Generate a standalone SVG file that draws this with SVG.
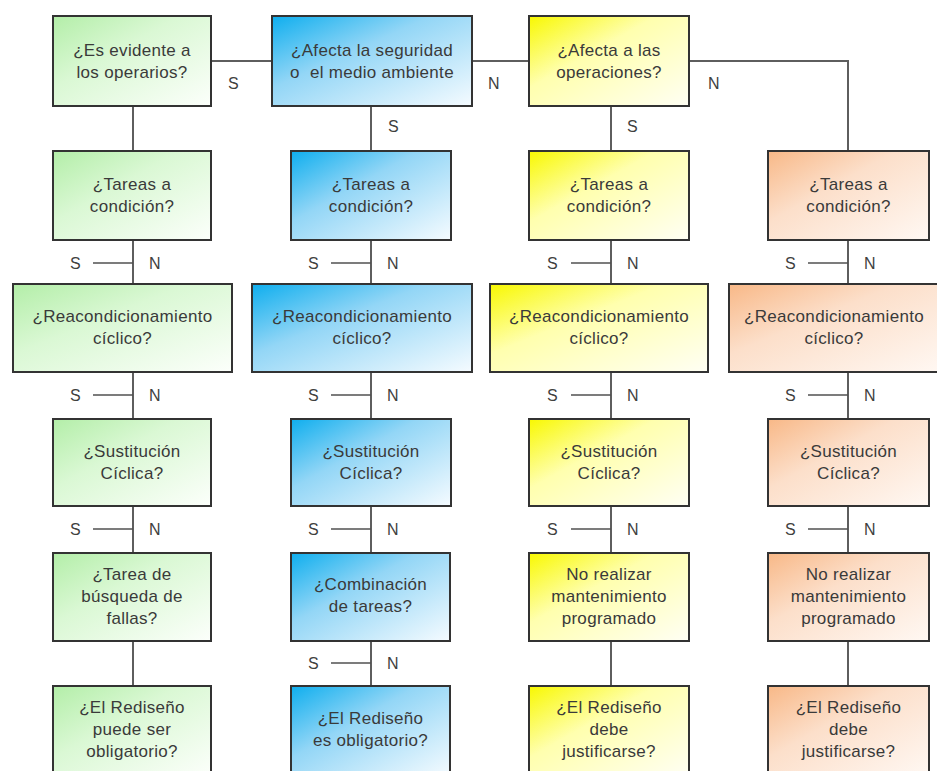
<svg xmlns="http://www.w3.org/2000/svg" width="937" height="771" viewBox="0 0 937 771">
  <defs>
    <linearGradient id="gGreen" x1="0" y1="0" x2="1" y2="1">
      <stop offset="0" stop-color="#b3eea8"/>
      <stop offset="0.4" stop-color="#daf8d4"/>
      <stop offset="1" stop-color="#fcfffb"/>
    </linearGradient>
    <linearGradient id="gBlue" x1="0" y1="0" x2="1" y2="1">
      <stop offset="0" stop-color="#0eaeee"/>
      <stop offset="0.4" stop-color="#93d6f6"/>
      <stop offset="1" stop-color="#f5fbff"/>
    </linearGradient>
    <linearGradient id="gYellow" x1="0" y1="0" x2="1" y2="1">
      <stop offset="0" stop-color="#f8f800"/>
      <stop offset="0.4" stop-color="#ffffae"/>
      <stop offset="1" stop-color="#fffff4"/>
    </linearGradient>
    <linearGradient id="gOrange" x1="0" y1="0" x2="1" y2="1">
      <stop offset="0" stop-color="#f8b887"/>
      <stop offset="0.4" stop-color="#fcdfca"/>
      <stop offset="1" stop-color="#fff8f3"/>
    </linearGradient>
  </defs>
  <style>
    .box { stroke: #333333; stroke-width: 2; }
    .green { fill: url(#gGreen); }
    .blue { fill: url(#gBlue); }
    .yellow { fill: url(#gYellow); }
    .orange { fill: url(#gOrange); }
    .t { font-family: "Liberation Sans", Arial, sans-serif; font-size: 17px; fill: #3a3a3a; text-anchor: middle; letter-spacing: 0.3px; }
    .lbl { font-family: "Liberation Sans", Arial, sans-serif; font-size: 16px; fill: #404040; }
    .wire { stroke: #5e5e5e; stroke-width: 2; fill: none; }
    .tick { stroke: #505050; stroke-width: 1.5; fill: none; }
  </style>
  <rect width="937" height="771" fill="#ffffff"/>

  <!-- connectors -->
  <g id="connectors">
    <line class="wire" x1="211" y1="61" x2="272" y2="61"/>
    <line class="wire" x1="472" y1="61" x2="529" y2="61"/>
    <polyline class="wire" points="689,61 848,61 848,686"/>
    <line class="wire" x1="133" y1="106" x2="133" y2="686"/>
    <line class="wire" x1="371" y1="106" x2="371" y2="686"/>
    <line class="wire" x1="611" y1="106" x2="611" y2="686"/>

    <!-- side ticks for the S / N branches -->
    <line class="tick" x1="93" y1="263" x2="133" y2="263"/>
    <line class="tick" x1="93" y1="395" x2="133" y2="395"/>
    <line class="tick" x1="93" y1="529" x2="133" y2="529"/>
    <line class="tick" x1="331" y1="263" x2="371" y2="263"/>
    <line class="tick" x1="331" y1="395" x2="371" y2="395"/>
    <line class="tick" x1="331" y1="529" x2="371" y2="529"/>
    <line class="tick" x1="331" y1="663" x2="371" y2="663"/>
    <line class="tick" x1="571" y1="263" x2="611" y2="263"/>
    <line class="tick" x1="571" y1="395" x2="611" y2="395"/>
    <line class="tick" x1="571" y1="529" x2="611" y2="529"/>
    <line class="tick" x1="808" y1="263" x2="848" y2="263"/>
    <line class="tick" x1="808" y1="395" x2="848" y2="395"/>
    <line class="tick" x1="808" y1="529" x2="848" y2="529"/>

    <g class="lbl">
      <text x="228" y="89">S</text>
      <text x="488" y="89">N</text>
      <text x="708" y="89">N</text>
      <text x="388" y="132">S</text>
      <text x="627" y="132">S</text>

      <text x="70" y="269">S</text><text x="149" y="269">N</text>
      <text x="70" y="401">S</text><text x="149" y="401">N</text>
      <text x="70" y="535">S</text><text x="149" y="535">N</text>

      <text x="308" y="269">S</text><text x="387" y="269">N</text>
      <text x="308" y="401">S</text><text x="387" y="401">N</text>
      <text x="308" y="535">S</text><text x="387" y="535">N</text>
      <text x="308" y="669">S</text><text x="387" y="669">N</text>

      <text x="547" y="269">S</text><text x="627" y="269">N</text>
      <text x="547" y="401">S</text><text x="627" y="401">N</text>
      <text x="547" y="535">S</text><text x="627" y="535">N</text>

      <text x="785" y="269">S</text><text x="864" y="269">N</text>
      <text x="785" y="401">S</text><text x="864" y="401">N</text>
      <text x="785" y="535">S</text><text x="864" y="535">N</text>
    </g>
  </g>

  <!-- column 1 (green) -->
  <g id="g1">
    <rect class="box green" x="53" y="16" width="158" height="90"/>
    <text class="t" x="132" y="56">¿Es evidente a</text>
    <text class="t" x="132" y="78">los operarios?</text>
  </g>
  <g id="g2">
    <rect class="box green" x="53" y="151" width="158" height="89"/>
    <text class="t" x="132" y="190">¿Tareas a</text>
    <text class="t" x="132" y="212">condición?</text>
  </g>
  <g id="g3">
    <rect class="box green" x="13" y="284" width="219" height="88"/>
    <text class="t" x="122.5" y="322">¿Reacondicionamiento</text>
    <text class="t" x="122.5" y="344">cíclico?</text>
  </g>
  <g id="g4">
    <rect class="box green" x="53" y="419" width="158" height="87"/>
    <text class="t" x="132" y="457">¿Sustitución</text>
    <text class="t" x="132" y="479">Cíclica?</text>
  </g>
  <g id="g5">
    <rect class="box green" x="53" y="553" width="158" height="88"/>
    <text class="t" x="132" y="580">¿Tarea de</text>
    <text class="t" x="132" y="602">búsqueda de</text>
    <text class="t" x="132" y="624">fallas?</text>
  </g>
  <g id="g6">
    <rect class="box green" x="53" y="686" width="158" height="90"/>
    <text class="t" x="132" y="713">¿El Rediseño</text>
    <text class="t" x="132" y="735">puede ser</text>
    <text class="t" x="132" y="757">obligatorio?</text>
  </g>

  <!-- column 2 (blue) -->
  <g id="b1">
    <rect class="box blue" x="272" y="16" width="200" height="90"/>
    <text class="t" x="372" y="56">¿Afecta la seguridad</text>
    <text class="t" x="372" y="78" xml:space="preserve" style="white-space:pre">o  el medio ambiente</text>
  </g>
  <g id="b2">
    <rect class="box blue" x="291" y="151" width="160" height="89"/>
    <text class="t" x="371" y="190">¿Tareas a</text>
    <text class="t" x="371" y="212">condición?</text>
  </g>
  <g id="b3">
    <rect class="box blue" x="252" y="284" width="220" height="88"/>
    <text class="t" x="362" y="322">¿Reacondicionamiento</text>
    <text class="t" x="362" y="344">cíclico?</text>
  </g>
  <g id="b4">
    <rect class="box blue" x="291" y="419" width="160" height="87"/>
    <text class="t" x="371" y="457">¿Sustitución</text>
    <text class="t" x="371" y="479">Cíclica?</text>
  </g>
  <g id="b5">
    <rect class="box blue" x="291" y="553" width="159" height="88"/>
    <text class="t" x="370.5" y="590">¿Combinación</text>
    <text class="t" x="370.5" y="612">de tareas?</text>
  </g>
  <g id="b6">
    <rect class="box blue" x="291" y="686" width="159" height="90"/>
    <text class="t" x="370.5" y="724">¿El Rediseño</text>
    <text class="t" x="370.5" y="746">es obligatorio?</text>
  </g>

  <!-- column 3 (yellow) -->
  <g id="y1">
    <rect class="box yellow" x="529" y="16" width="160" height="90"/>
    <text class="t" x="609" y="56">¿Afecta a las</text>
    <text class="t" x="609" y="78">operaciones?</text>
  </g>
  <g id="y2">
    <rect class="box yellow" x="529" y="151" width="160" height="89"/>
    <text class="t" x="609" y="190">¿Tareas a</text>
    <text class="t" x="609" y="212">condición?</text>
  </g>
  <g id="y3">
    <rect class="box yellow" x="490" y="284" width="218" height="88"/>
    <text class="t" x="599" y="322">¿Reacondicionamiento</text>
    <text class="t" x="599" y="344">cíclico?</text>
  </g>
  <g id="y4">
    <rect class="box yellow" x="529" y="419" width="160" height="87"/>
    <text class="t" x="609" y="457">¿Sustitución</text>
    <text class="t" x="609" y="479">Cíclica?</text>
  </g>
  <g id="y5">
    <rect class="box yellow" x="529" y="553" width="160" height="88"/>
    <text class="t" x="609" y="580">No realizar</text>
    <text class="t" x="609" y="602">mantenimiento</text>
    <text class="t" x="609" y="624">programado</text>
  </g>
  <g id="y6">
    <rect class="box yellow" x="529" y="686" width="160" height="90"/>
    <text class="t" x="609" y="713">¿El Rediseño</text>
    <text class="t" x="609" y="735">debe</text>
    <text class="t" x="609" y="757">justificarse?</text>
  </g>

  <!-- column 4 (orange) -->
  <g id="o2">
    <rect class="box orange" x="768" y="151" width="161" height="89"/>
    <text class="t" x="848.5" y="190">¿Tareas a</text>
    <text class="t" x="848.5" y="212">condición?</text>
  </g>
  <g id="o3">
    <rect class="box orange" x="729" y="284" width="212" height="88"/>
    <text class="t" x="834" y="322">¿Reacondicionamiento</text>
    <text class="t" x="834" y="344">cíclico?</text>
  </g>
  <g id="o4">
    <rect class="box orange" x="768" y="419" width="161" height="87"/>
    <text class="t" x="848.5" y="457">¿Sustitución</text>
    <text class="t" x="848.5" y="479">Cíclica?</text>
  </g>
  <g id="o5">
    <rect class="box orange" x="768" y="553" width="161" height="88"/>
    <text class="t" x="848.5" y="580">No realizar</text>
    <text class="t" x="848.5" y="602">mantenimiento</text>
    <text class="t" x="848.5" y="624">programado</text>
  </g>
  <g id="o6">
    <rect class="box orange" x="768" y="686" width="161" height="90"/>
    <text class="t" x="848.5" y="713">¿El Rediseño</text>
    <text class="t" x="848.5" y="735">debe</text>
    <text class="t" x="848.5" y="757">justificarse?</text>
  </g>
</svg>
